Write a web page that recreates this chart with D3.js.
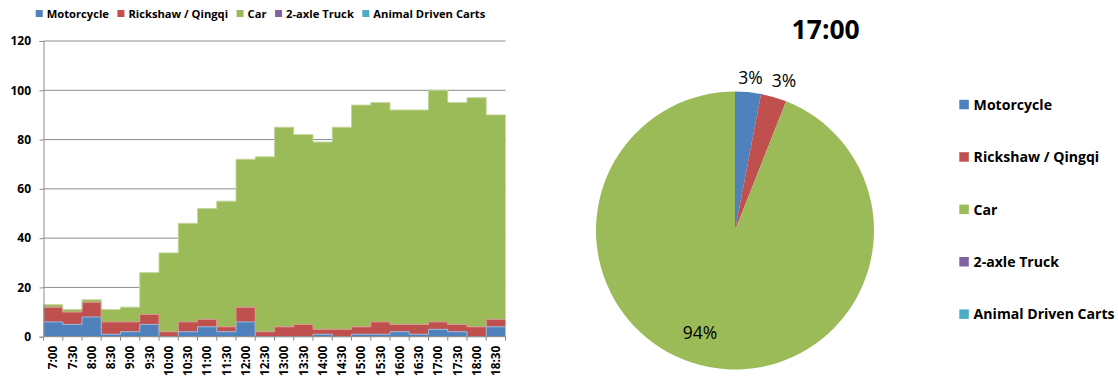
<!DOCTYPE html>
<html>
<head>
<meta charset="utf-8">
<script src="https://cdn.jsdelivr.net/npm/d3@7"></script>
<style>
  html, body { margin: 0; padding: 0; background: #fff; }
  svg { display: block; font-family: "Open Sans", Lato, "Liberation Sans", sans-serif; }
</style>
</head>
<body>
<svg id="chart" width="1118" height="381"></svg>
<script>
// Half-hourly vehicle counts
const times = ["7:00","7:30","8:00","8:30","9:00","9:30","10:00","10:30","11:00","11:30","12:00","12:30",
               "13:00","13:30","14:00","14:30","15:00","15:30","16:00","16:30","17:00","17:30","18:00","18:30"];
const motorcycle = [6,5,8,1,2,5,0,2,4,2,6,0,0,0,1,0,1,1,2,1,3,2,0,4];
const rickshaw   = [6,5,6,5,4,4,2,4,3,2,6,2,4,5,2,3,3,5,3,4,3,3,4,3];
const car        = [1,1,1,5,6,17,32,40,45,51,60,71,81,77,76,82,90,89,87,87,94,90,93,83];
const truck      = new Array(24).fill(0);
const animalCart = new Array(24).fill(0);

const seriesNames = ["Motorcycle", "Rickshaw / Qingqi", "Car", "2-axle Truck", "Animal Driven Carts"];
const seriesColors = ["#4F81BD", "#C0504D", "#9BBB59", "#8064A2", "#4BACC6"];
const edgeColors = ["#9db7d9", "#d99694", "#c3d69b", "#b3a2c7", "#93cddd"];
const yTicks = [0, 20, 40, 60, 80, 100, 120];

// Time slot shown in the pie
const pieSlot = "17:00";

const svg = d3.select("#chart");

// ---------- Stacked step-area chart ----------
const plot = { left: 43.5, right: 505.5, top: 41, bottom: 336.7 };
const x = d3.scaleLinear().domain([0, times.length]).range([plot.left, plot.right]);
const y = d3.scaleLinear().domain([0, 120]).range([plot.bottom, plot.top]);

const rows = times.map((t, i) => ({
  t, i,
  "Motorcycle": motorcycle[i],
  "Rickshaw / Qingqi": rickshaw[i],
  "Car": car[i],
  "2-axle Truck": truck[i],
  "Animal Driven Carts": animalCart[i]
}));
const stack = d3.stack().keys(seriesNames)(rows);

// gridlines
svg.append("g").selectAll("line").data(yTicks.filter(v => v > 0)).join("line")
  .attr("x1", plot.left).attr("x2", plot.right)
  .attr("y1", d => y(d)).attr("y2", d => y(d))
  .attr("stroke", "#8c8c8c").attr("stroke-width", 1);

// step areas: repeat last point so the final step spans its slot
const area = d3.area()
  .curve(d3.curveStepAfter)
  .x(d => x(d.idx))
  .y0(d => y(d.v[0]))
  .y1(d => y(d.v[1]));
const line = d3.line()
  .curve(d3.curveStepAfter)
  .x(d => x(d.idx))
  .y(d => y(d.v[1]));

const layerPoints = layer => {
  const pts = layer.map((v, i) => ({ idx: i, v }));
  pts.push({ idx: layer.length, v: layer[layer.length - 1] });
  return pts;
};
stack.forEach((layer, k) => {
  svg.append("path").attr("d", area(layerPoints(layer))).attr("fill", seriesColors[k]);
});
stack.forEach((layer, k) => {
  if (d3.max(layer, d => d[1] - d[0]) > 0) {
    svg.append("path").attr("d", line(layerPoints(layer))).attr("fill", "none")
      .attr("stroke", edgeColors[k]).attr("stroke-width", 1);
  }
});

// y axis
const yAxis = d3.axisLeft(y).tickValues(yTicks).tickSize(4).tickPadding(8.5);
const gy = svg.append("g").attr("transform", `translate(${plot.left},0)`).call(yAxis);
gy.select(".domain").attr("stroke", "#8c8c8c");
gy.selectAll(".tick line").attr("stroke", "#8c8c8c");
gy.selectAll(".tick text").attr("font-size", 12).attr("font-weight", "bold").attr("fill", "#000")
  .attr("font-family", "'Open Sans', sans-serif");

// x axis: ticks at slot boundaries, labels centred in slots
const gx = svg.append("g").attr("transform", `translate(0,${plot.bottom})`);
gx.append("line").attr("x1", plot.left).attr("x2", plot.right).attr("stroke", "#8c8c8c");
gx.selectAll("line.tk").data(d3.range(times.length + 1)).join("line").attr("class", "tk")
  .attr("x1", d => x(d)).attr("x2", d => x(d)).attr("y1", 0).attr("y2", 4)
  .attr("stroke", "#8c8c8c");
gx.selectAll("text").data(times).join("text")
  .attr("transform", (d, i) => `translate(${x(i + 0.5) + 4.2},9) rotate(-90)`)
  .attr("text-anchor", "end")
  .attr("font-size", 11.8).attr("font-weight", "bold").attr("fill", "#000")
  .text(d => d);

// top legend
const topLegend = svg.append("g").attr("font-size", 11.2).attr("font-weight", "bold");
let lx = 35.7;
seriesNames.forEach((name, k) => {
  const g = topLegend.append("g").attr("transform", `translate(${lx},0)`);
  g.append("rect").attr("x", 0).attr("y", 10).attr("width", 7).attr("height", 7).attr("fill", seriesColors[k]);
  const t = g.append("text").attr("x", 11).attr("y", 17.5).text(name);
  lx += 11 + t.node().getComputedTextLength() + 8.5;
});

// ---------- Pie for one time slot ----------
const slotIdx = times.indexOf(pieSlot);
const pieData = seriesNames.map((name, k) => ({ name, color: seriesColors[k], value: stack[k][slotIdx][1] - stack[k][slotIdx][0] }));
const total = d3.sum(pieData, d => d.value);
const pie = d3.pie().sort(null).value(d => d.value)(pieData);
const radius = 139;
const arc = d3.arc().innerRadius(0).outerRadius(radius);
const pg = svg.append("g").attr("transform", "translate(735,230.5)");
pg.selectAll("path").data(pie.filter(d => d.data.value > 0)).join("path")
  .attr("d", arc).attr("fill", d => d.data.color);

// percentage labels
const pct = d => Math.round(d.data.value / total * 100) + "%";
const labelPos = { "Motorcycle": [750.5, 84], "Rickshaw / Qingqi": [784, 86.5], "Car": [700, 339] };
svg.append("g").selectAll("text").data(pie.filter(d => d.data.value > 0)).join("text")
  .attr("x", d => labelPos[d.data.name][0]).attr("y", d => labelPos[d.data.name][1])
  .attr("text-anchor", "middle").attr("font-size", 17.5).attr("fill", "#000")
  .text(pct);

svg.append("text").attr("x", 825.7).attr("y", 38.5).attr("text-anchor", "middle")
  .attr("font-size", 26.5).attr("font-weight", "bold").attr("fill", "#000").text(pieSlot);

// right legend
const rl = svg.append("g").attr("font-size", 14.1).attr("font-weight", "bold");
seriesNames.forEach((name, k) => {
  const cy = 104.5 + k * 52.4;
  rl.append("rect").attr("x", 959.3).attr("y", cy - 4.7).attr("width", 9.5).attr("height", 9.5).attr("fill", seriesColors[k]);
  rl.append("text").attr("x", 973.6).attr("y", cy + 5.2).text(name);
});
</script>
</body>
</html>
